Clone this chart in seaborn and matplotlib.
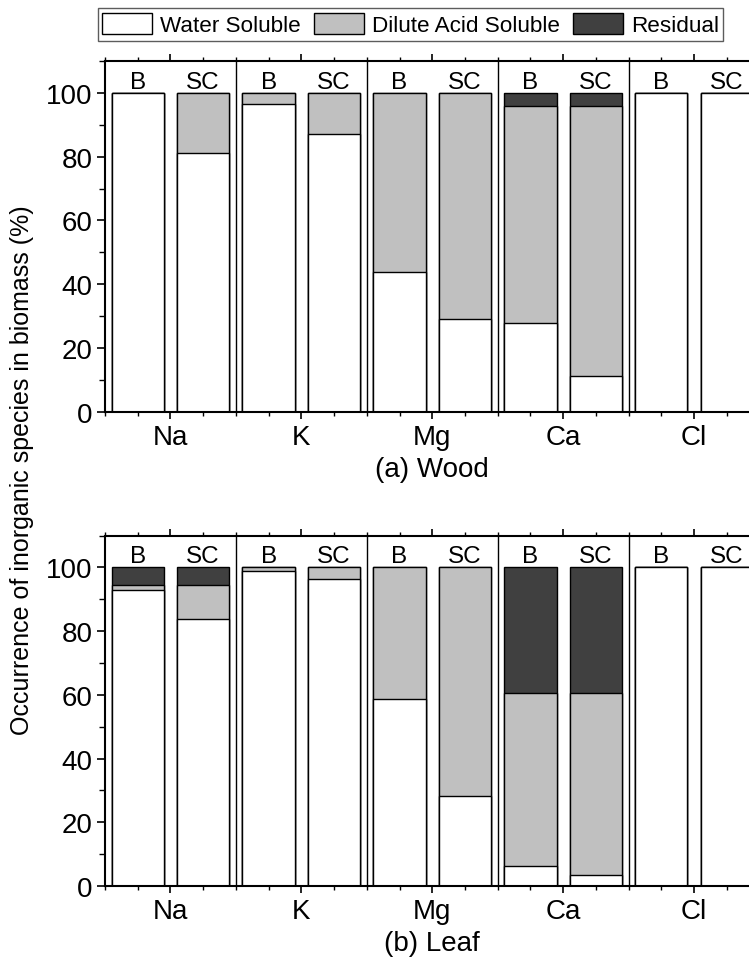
import numpy as np
import pandas as pd
import matplotlib
matplotlib.use("Agg")
import matplotlib.pyplot as plt
from matplotlib.patches import Patch
from matplotlib.ticker import MultipleLocator, FixedLocator
import seaborn as sns

# ---- data -------------------------------------------------------------
elements = ["Na", "K", "Mg", "Ca", "Cl"]
samples = ["B", "SC"]
fractions = ["Water Soluble", "Dilute Acid Soluble", "Residual"]

# (a) Wood, % of each species
wood_water_B = [100.0, 96.4, 43.8, 27.9, 100.0]
wood_water_SC = [81.2, 87.2, 28.9, 11.3, 100.0]
wood_acid_B = [0.0, 3.6, 56.2, 68.1, 0.0]
wood_acid_SC = [18.8, 12.8, 71.1, 84.7, 0.0]
wood_resid_B = [0.0, 0.0, 0.0, 4.0, 0.0]
wood_resid_SC = [0.0, 0.0, 0.0, 4.0, 0.0]

# (b) Leaf, % of each species
leaf_water_B = [92.8, 98.8, 58.7, 6.3, 100.0]
leaf_water_SC = [83.9, 96.4, 28.3, 3.4, 100.0]
leaf_acid_B = [1.8, 1.2, 41.3, 54.2, 0.0]
leaf_acid_SC = [10.7, 3.6, 71.7, 57.1, 0.0]
leaf_resid_B = [5.4, 0.0, 0.0, 39.5, 0.0]
leaf_resid_SC = [5.4, 0.0, 0.0, 39.5, 0.0]

colors = ["#ffffff", "#c0c0c0", "#404040"]

# ---- style ------------------------------------------------------------
sns.set_style("ticks")
plt.rcParams["font.family"] = ["Liberation Sans", "DejaVu Sans"]
plt.rcParams.update({
    "axes.linewidth": 1.5,
    "text.color": "black",
    "axes.labelcolor": "black",
    "axes.edgecolor": "black",
    "xtick.color": "black",
    "ytick.color": "black",
})


def long_table(water, acid, resid):
    rows = []
    for k, s in enumerate(samples):
        w, a, r = (np.asarray(water[k]), np.asarray(acid[k]),
                   np.asarray(resid[k]))
        for i, el in enumerate(elements):
            rows.append(dict(element=el, sample=s,
                             water=w[i], acid=w[i] + a[i],
                             total=w[i] + a[i] + r[i]))
    return pd.DataFrame(rows)


def draw_panel(ax, df, xlabel):
    # stacked look: draw cumulative layers from the top down
    for col, c in zip(["total", "acid", "water"], colors[::-1]):
        sns.barplot(data=df, x="element", y=col, hue="sample",
                    order=elements, hue_order=samples,
                    palette={s: c for s in samples}, errorbar=None,
                    width=1.0, gap=0.2, edgecolor="black", linewidth=1.0,
                    legend=False, ax=ax, saturation=1)
    for i in range(len(elements) - 1):
        ax.axvline(i + 0.5, color="black", lw=1.0, zorder=5)
    for i in range(len(elements)):
        for off, s in zip((-0.25, 0.25), samples):
            ax.text(i + off, 101.6, s, ha="center", va="baseline",
                    fontsize=17.5, color="black")
    ax.set_xlim(-0.5, len(elements) - 0.5)
    ax.set_ylim(0, 110)
    ax.set_xticks(range(len(elements)))
    ax.set_xticklabels(elements, fontsize=20)
    ax.xaxis.set_minor_locator(FixedLocator(
        [k * 0.25 - 0.5 for k in range(21) if k % 4 != 2]))
    ax.set_yticks([0, 20, 40, 60, 80, 100])
    ax.yaxis.set_minor_locator(MultipleLocator(10))
    ax.tick_params(axis="y", which="major", labelsize=20, length=6,
                   width=1.2, direction="out", pad=3)
    ax.tick_params(axis="y", which="minor", length=4, width=1.0,
                   direction="out")
    ax.tick_params(axis="x", which="major", length=5, width=1.2,
                   direction="out", pad=4, top=True)
    ax.tick_params(axis="x", which="minor", length=3, width=1.0,
                   direction="out", top=True)
    ax.set_xlabel(xlabel, fontsize=20, labelpad=4)
    ax.set_ylabel("")
    for sp in ax.spines.values():
        sp.set_visible(True)
        sp.set_linewidth(1.5)
        sp.set_zorder(6)


fig = plt.figure(figsize=(7.49, 9.70), dpi=100)
ax_top = fig.add_axes([0.1402, 0.5747, 0.8738, 0.3613])
ax_bot = fig.add_axes([0.1402, 0.0856, 0.8738, 0.3613])

draw_panel(ax_top, long_table((wood_water_B, wood_water_SC),
                              (wood_acid_B, wood_acid_SC),
                              (wood_resid_B, wood_resid_SC)), "(a) Wood")
draw_panel(ax_bot, long_table((leaf_water_B, leaf_water_SC),
                              (leaf_acid_B, leaf_acid_SC),
                              (leaf_resid_B, leaf_resid_SC)), "(b) Leaf")

fig.text(0.029, 0.5155, "Occurrence of inorganic species in biomass (%)",
         rotation=90, ha="center", va="center", fontsize=18)

handles = [Patch(facecolor=c, edgecolor="black", linewidth=1.0)
           for c in colors]
leg = fig.legend(handles, fractions, loc="center",
                 bbox_to_anchor=(0.548, 0.9737), ncol=3, fontsize=16.2,
                 frameon=True, fancybox=False, edgecolor="#333333",
                 handlelength=2.2, handleheight=1.05, handletextpad=0.36,
                 columnspacing=0.6, borderpad=0.2, borderaxespad=0)
leg.get_frame().set_linewidth(1.0)

fig.savefig("out.png", dpi=100)
